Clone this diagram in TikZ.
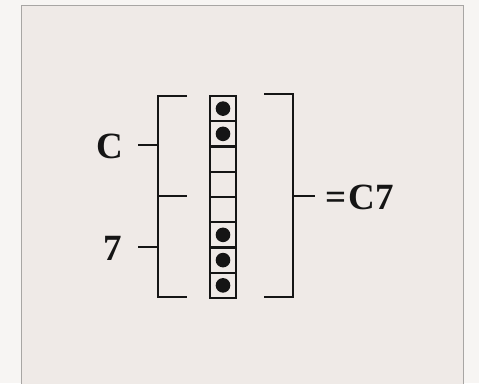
\documentclass[tikz,border=0pt]{standalone}
\usepackage{fontspec}
\setmainfont{Liberation Serif}
\usetikzlibrary{positioning}
\definecolor{paper}{HTML}{EFEAE7}
\definecolor{outside}{HTML}{F7F5F3}
\definecolor{frame}{HTML}{A8A6A4}
\definecolor{ink}{HTML}{151515}

\begin{document}
\begin{tikzpicture}[x=1pt, y=-1pt,
    cell/.style={draw=ink, line width=2.4pt, minimum width=26pt,
                 minimum height=25.25pt, inner sep=0pt, outer sep=0pt},
    brk/.style={draw=ink, line width=2.4pt},
    lbl/.style={font=\fontsize{37}{40}\selectfont\bfseries, text=ink, inner sep=0pt}]
  \useasboundingbox (0,0) rectangle (479,383);
  \fill[outside] (0,0) rectangle (479,383);
  \filldraw[fill=paper, draw=frame, line width=1pt] (21,5) rectangle (463,392);
  % --- kolumna osmiu pol ---
  \node[cell] (c1) at (223,108.6) {};
  \node[cell, below=0pt of c1] (c2) {};
  \node[cell, below=0pt of c2] (c3) {};
  \node[cell, below=0pt of c3] (c4) {};
  \node[cell, below=0pt of c4] (c5) {};
  \node[cell, below=0pt of c5] (c6) {};
  \node[cell, below=0pt of c6] (c7) {};
  \node[cell, below=0pt of c7] (c8) {};
  \foreach \i in {1,2,6,7,8}
    \fill[ink] (c\i) circle[radius=7.3];
  % --- nawiasy ---
  \coordinate (lt) at (187,96);   \coordinate (lb) at (187,297);
  \coordinate (rt) at (264,94);   \coordinate (rb) at (264,297);
  \draw[brk] (lt) -- (158,96) -- (158,297) -- (lb);
  \draw[brk] (158,196) -- (187,196);
  \draw[brk] (rt) -- (293,94) -- (293,297) -- (rb);
  % --- etykiety ---
  \node[lbl] (cc)  at (110,146) {C};
  \node[lbl] (sev) at (113,248) {7};
  \node[lbl, anchor=west] (res) at (325,197) {=\kern2pt C7};
  \draw[brk] (138,145) -- (158,145);
  \draw[brk] (138,247) -- (158,247);
  \draw[brk] (293,196) -- (315,196);
\end{tikzpicture}
\end{document}
